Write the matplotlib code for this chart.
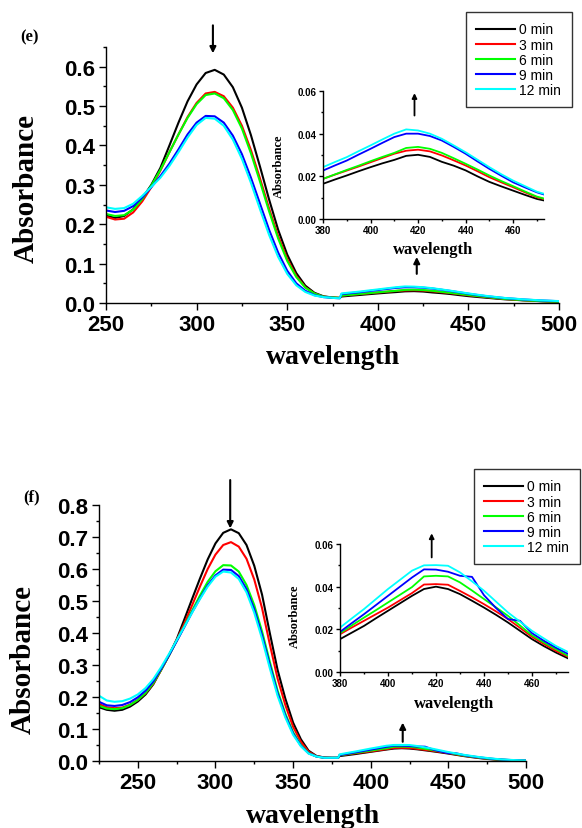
import matplotlib
matplotlib.use('Agg')
import matplotlib.pyplot as plt
from matplotlib.ticker import MultipleLocator, FormatStrFormatter

labels = ['0 min', '3 min', '6 min', '9 min', '12 min']
colors = ['black', 'red', '#00ff00', 'blue', 'cyan']

# wavelengths above the detector change at 380 nm (same for both panels)
wl_tail = [380, 385, 390, 395, 400, 405, 410, 415, 420, 425, 430, 435, 440,
           445, 450, 455, 460, 465, 470, 475, 480, 485, 490, 495, 500]

# ---- panel (e) ----
wl_e = [250, 255, 260, 265, 270, 275, 280, 285, 290, 295, 300, 305, 310, 315,
        320, 325, 330, 335, 340, 345, 350, 355, 360, 365, 370, 375, 379] + wl_tail

e_0 = [.222, .216, .221, .238, .266, .300, .343, .400, .458, .512, .555, .584, .592, .580,
       .548, .496, .426, .346, .263, .186, .123, .076, .044, .026, .017, .014, .013,
       .0165, .0185, .0204, .0224, .0243, .0261, .0277, .0296, .0301, .0291, .0268, .0250, .0228,
       .0200, .0174, .0153, .0133, .0113, .0094, .0082, .0068, .0057, .0046, .0037, .0030]
e_3 = [.219, .212, .214, .230, .258, .294, .336, .383, .428, .472, .508, .532, .536, .525,
       .496, .450, .388, .316, .240, .170, .112, .069, .040, .024, .016, .014, .013,
       .0188, .0208, .0227, .0246, .0266, .0286, .0306, .0320, .0325, .0317, .0298, .0275, .0251,
       .0224, .0196, .0172, .0149, .0125, .0102, .0088, .0072, .0060, .0048, .0038, .0030]
e_6 = [.226, .221, .223, .237, .264, .298, .338, .383, .428, .470, .505, .528, .532, .520,
       .490, .443, .380, .308, .233, .164, .107, .066, .039, .024, .016, .014, .013,
       .0188, .0209, .0230, .0250, .0271, .0291, .0310, .0333, .0338, .0329, .0310, .0285, .0259,
       .0232, .0204, .0178, .0154, .0129, .0105, .0090, .0073, .0061, .0049, .0039, .0031]
e_9 = [.235, .231, .234, .246, .268, .294, .322, .354, .390, .428, .458, .475, .474, .458,
       .425, .378, .318, .252, .186, .128, .082, .050, .031, .020, .015, .013, .012,
       .0227, .0251, .0274, .0302, .0329, .0357, .0384, .0400, .0400, .0389, .0368, .0338, .0306,
       .0270, .0235, .0203, .0172, .0148, .0125, .0108, .0090, .0077, .0065, .0055, .0046]
e_12 = [.243, .239, .241, .252, .272, .295, .318, .348, .383, .420, .452, .470, .468, .450,
        .415, .366, .305, .238, .173, .117, .074, .045, .028, .019, .015, .013, .012,
        .0243, .0267, .0290, .0318, .0345, .0373, .0400, .0420, .0415, .0400, .0376, .0345, .0313,
        .0278, .0243, .0210, .0180, .0154, .0128, .0112, .0094, .0080, .0068, .0058, .0049]

# ---- panel (f) ----
wl_f = [225, 230, 235, 240, 245, 250, 255, 260, 265, 270, 275, 280, 285, 290, 295, 300,
        305, 310, 315, 320, 325, 330, 335, 340, 345, 350, 355, 360, 365, 370, 375, 379] + wl_tail

f_0 = [.168, .160, .157, .160, .170, .186, .208, .240, .285, .330, .380, .443, .507, .570, .630, .680,
       .713, .724, .712, .675, .610, .520, .400, .285, .195, .120, .068, .032, .016, .011, .010, .010,
       .0154, .0185, .0216, .0252, .0287, .0322, .0357, .0389, .0400, .0389, .0365, .0334, .0302,
       .0268, .0232, .0193, .0154, .0121, .0091, .0064, .0045, .0030, .0020, .0013, .0008]
f_3 = [.178, .168, .165, .167, .176, .191, .212, .242, .284, .329, .377, .430, .487, .545, .600, .645,
       .675, .684, .670, .632, .567, .478, .365, .258, .175, .107, .060, .029, .015, .011, .010, .010,
       .0177, .0209, .0240, .0271, .0302, .0336, .0370, .0410, .0412, .0409, .0380, .0350, .0318,
       .0284, .0248, .0207, .0165, .0131, .0099, .0072, .0052, .0036, .0025, .0016, .0010]
f_6 = [.1725, .164, .162, .165, .175, .191, .213, .244, .285, .329, .375, .422, .470, .517, .560, .593,
       .612, .611, .592, .550, .487, .405, .310, .220, .148, .090, .050, .025, .014, .010, .010, .010,
       .0182, .0219, .0255, .0290, .0326, .0362, .0398, .0448, .0451, .0448, .0420, .0382, .0342,
       .0303, .0263, .0218, .0172, .0138, .0107, .0076, .0055, .0039, .0027, .0018, .0012]
f_9 = [.185, .174, .172, .175, .184, .199, .220, .249, .288, .330, .374, .419, .465, .508, .549, .580,
       .598, .597, .578, .537, .474, .393, .300, .212, .142, .086, .048, .024, .014, .010, .010, .010,
       .0188, .0230, .0271, .0314, .0357, .0400, .0443, .0481, .0480, .0470, .0451, .0446, .0360,
       .0300, .0248, .0240, .0182, .0146, .0114, .0085, .0062, .0044, .0031, .0021, .0014]
f_12 = [.204, .189, .185, .187, .195, .208, .228, .256, .293, .334, .377, .420, .464, .506, .545, .576,
        .592, .589, .569, .527, .463, .382, .290, .204, .136, .082, .046, .023, .014, .010, .010, .010,
        .0208, .0252, .0295, .0342, .0389, .0432, .0475, .0500, .0501, .0498, .0467, .0425, .0381,
        .0330, .0279, .0236, .0193, .0157, .0122, .0094, .0068, .0048, .0034, .0023, .0015]

SANS = 'Liberation Sans'
SERIF = 'Liberation Serif'

fig = plt.figure(figsize=(5.82, 8.29), dpi=100)
W, H = 582.0, 829.0


def box(l, t, r, b):
    # pixel box -> figure fraction
    return [l / W, 1 - b / H, (r - l) / W, (b - t) / H]


def style(ax, xmaj, xmin, ymaj, ymin, yfmt, size, tl, pad):
    for s in ['top', 'right']:
        ax.spines[s].set_visible(False)
    for s in ['left', 'bottom']:
        ax.spines[s].set_linewidth(1.0)
    ax.xaxis.set_major_locator(MultipleLocator(xmaj))
    ax.xaxis.set_minor_locator(MultipleLocator(xmin))
    ax.yaxis.set_major_locator(MultipleLocator(ymaj))
    ax.yaxis.set_minor_locator(MultipleLocator(ymin))
    ax.yaxis.set_major_formatter(FormatStrFormatter(yfmt))
    ax.tick_params(which='major', direction='out', length=tl, width=1.0, pad=pad)
    ax.tick_params(which='minor', direction='out', length=tl * 0.5, width=1.0)
    for t in ax.get_xticklabels() + ax.get_yticklabels():
        t.set_fontfamily(SANS)
        t.set_fontweight('bold')
        t.set_fontsize(size)


def panel(series, wl, main_box, inset_box, xlim, ylim, ins_xlim, tag, tag_xy,
          ylab_y, xlab_y, ins_xlab_y, ins_ylab_y, arrows_main, arrow_ins, leg_xy):
    ax = fig.add_axes(box(*main_box))
    lines = []
    for ys, c, lab in zip(series, colors, labels):
        ln, = ax.plot(wl, ys, color=c, lw=1.5, label=lab)
        lines.append(ln)
    ax.set_xlim(*xlim)
    ax.set_ylim(*ylim)
    style(ax, 50, 25, 0.1, 0.05, '%.1f', 16, 5, 3)
    ax.set_xlabel('wavelength', fontfamily=SERIF, fontweight='bold', fontsize=20)
    ax.set_ylabel('Absorbance', fontfamily=SERIF, fontweight='bold', fontsize=21)
    ax.xaxis.set_label_coords(0.50, xlab_y)
    ax.yaxis.set_label_coords(-0.146, ylab_y)
    for (x, y0, y1) in arrows_main:
        ax.annotate('', xy=(x, y1), xytext=(x, y0), annotation_clip=False,
                    arrowprops=dict(arrowstyle='-|>', color='black', lw=1.5,
                                    mutation_scale=9, shrinkA=0, shrinkB=0))

    ins = fig.add_axes(box(*inset_box))
    for ys, c in zip(series, colors):
        ins.plot(wl, ys, color=c, lw=1.3)
    ins.set_xlim(*ins_xlim)
    ins.set_ylim(0, 0.06)
    style(ins, 20, 10, 0.02, 0.01, '%.2f', 7, 3, 1.5)
    ins.set_xlabel('wavelength', fontfamily=SERIF, fontweight='bold', fontsize=12)
    ins.set_ylabel('Absorbance', fontfamily=SERIF, fontweight='bold', fontsize=9)
    ins.xaxis.set_label_coords(0.50, ins_xlab_y)
    ins.yaxis.set_label_coords(-0.172, ins_ylab_y)
    x, y0, y1 = arrow_ins
    ins.annotate('', xy=(x, y1), xytext=(x, y0), annotation_clip=False,
                 arrowprops=dict(arrowstyle='-|>', color='black', lw=1.3,
                                 mutation_scale=7, shrinkA=0, shrinkB=0))

    fig.text(tag_xy[0] / W, 1 - tag_xy[1] / H, tag, ha='center', va='center',
             fontfamily=SERIF, fontweight='bold', fontsize=12)

    leg = fig.legend(lines, labels, loc='upper left',
                     bbox_to_anchor=(leg_xy[0] / W, 1 - leg_xy[1] / H),
                     bbox_transform=fig.transFigure, borderaxespad=0,
                     frameon=True, fancybox=False, edgecolor='black',
                     prop={'family': SANS, 'size': 10}, handlelength=2.8,
                     handletextpad=0.3, labelspacing=0.08, borderpad=0.75)
    leg.get_frame().set_linewidth(1.0)
    for ln in leg.get_lines():
        ln.set_linewidth(1.5)


panel([e_0, e_3, e_6, e_9, e_12], wl_e,
      (106, 48, 559, 304), (323, 92, 544, 220),
      (250, 500), (0, 0.65), (380, 473), '(e)', (29, 37), 0.45, -0.16, -0.17, 0.42,
      [(309, 0.705, 0.634), (421.5, 0.074, 0.117)], (418.5, 0.0485, 0.059),
      (466, 13))

panel([f_0, f_3, f_6, f_9, f_12], wl_f,
      (99, 506, 526, 762), (340, 545, 568, 673),
      (225, 500), (0, 0.8), (380, 475), '(f)', (32, 497), 0.40, -0.165, -0.18, 0.44,
      [(309.5, 0.878, 0.727), (420.6, 0.06, 0.12)], (418.2, 0.0537, 0.065),
      (474, 470))

fig.savefig('out.png', dpi=100)
